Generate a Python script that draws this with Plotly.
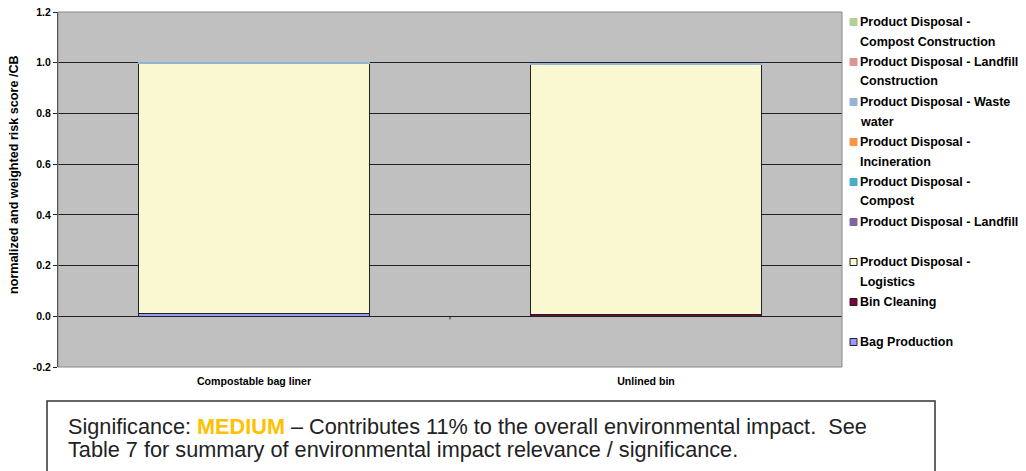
import plotly.graph_objects as go

categories = ["Compostable bag liner", "Unlined bin"]

series_names = [
    "Bag Production",
    "Bin Cleaning",
    "Product Disposal -\nLogistics",
    "Product Disposal - Landfill",
    "Product Disposal -\nCompost",
    "Product Disposal -\nIncineration",
    "Product Disposal - Waste\nwater",
    "Product Disposal - Landfill\nConstruction",
    "Product Disposal -\nCompost Construction",
]
bag_production = [0.012, 0.0]
bin_cleaning = [0.0, 0.007]
logistics = [0.985, 0.986]
landfill = [0.0, 0.0]
compost = [0.0, 0.0]
incineration = [0.0, 0.0]
waste_water = [0.002, 0.002]
landfill_construction = [0.0, 0.0]
compost_construction = [0.0, 0.0]

series_values = [bag_production, bin_cleaning, logistics, landfill, compost,
                 incineration, waste_water, landfill_construction, compost_construction]
colors = ["#9999FF", "#800040", "#FAF8D0", "#8064A2", "#4BACC6",
          "#F79646", "#95B3D7", "#D99694", "#B3CF95"]
outlined = [True, True, True, False, False, False, False, False, False]

y_ticks = [-0.2, 0.0, 0.2, 0.4, 0.6, 0.8, 1.0, 1.2]
y_title = "normalized and weighted risk score /CB"

W, H = 1026, 471
L, R, T, B = 58, 842, 12, 367  # plot area in pixels


def px(x):
    return (x - L) / (R - L)


def py(y):
    return (B - y) / (B - T)


fig = go.Figure()
for name, vals, col, ol in zip(series_names, series_values, colors, outlined):
    fig.add_trace(go.Bar(
        x=categories, y=vals, name=name.replace("\n", " "), marker_color=col,
        marker_line_color="#222222" if ol else col,
        marker_line_width=1 if ol else 0,
        showlegend=False,
    ))

shapes = [
    dict(type="rect", xref="paper", yref="paper", x0=0, x1=1, y0=0, y1=1,
         line=dict(color="#888888", width=1), fillcolor="rgba(0,0,0,0)", layer="above"),
    dict(type="line", xref="x", yref="y", x0=0.5, x1=0.5, y0=0, y1=-0.012,
         line=dict(color="#222222", width=1)),
    dict(type="rect", xref="paper", yref="paper", x0=px(47), x1=px(935),
         y0=py(480), y1=py(401), line=dict(color="#333333", width=1.5),
         fillcolor="white"),
]
annotations = [
    dict(xref="paper", yref="paper", x=px(14), y=py(175), textangle=-90,
         xanchor="center", yanchor="middle", showarrow=False, text=y_title,
         font=dict(family="Liberation Sans, Arial", size=12.6, color="black",
                   weight="bold")),
]

# legend (top item = last series)
n = len(series_names)
for k in range(n):
    i = n - 1 - k
    yc = 22 + 40 * k
    shapes.append(dict(
        type="rect", xref="paper", yref="paper",
        x0=px(850), x1=px(857), y0=py(yc + 3.5), y1=py(yc - 3.5),
        fillcolor=colors[i],
        line=dict(color="#222222" if outlined[i] else colors[i], width=1),
    ))
    for j, line in enumerate(series_names[i].split("\n")):
        annotations.append(dict(
            xref="paper", yref="paper", x=px(858), y=py(yc + 19.5 * j),
            xanchor="left", yanchor="middle", showarrow=False, text=line,
            font=dict(family="Liberation Sans, Arial", size=12.5, color="black",
                      weight="bold"),
        ))

# significance text box
box_lines = [
    "Significance: <span style='color:#FFC000'><b>MEDIUM</b></span> – Contributes 11% to the overall environmental impact.  See",
    "Table 7 for summary of environmental impact relevance / significance.",
]
for j, t in enumerate(box_lines):
    annotations.append(dict(
        xref="paper", yref="paper", x=px(66), y=py(426 + 23.5 * j),
        xanchor="left", yanchor="middle", showarrow=False, text=t,
        font=dict(family="Liberation Sans, Arial", size=21.7, color="#222222"),
    ))

fig.update_layout(
    width=W, height=H,
    barmode="stack", bargap=0.41,
    paper_bgcolor="white", plot_bgcolor="#C0C0C0",
    margin=dict(l=L, r=W - R, t=T, b=H - B, autoexpand=False),
    font=dict(family="Liberation Sans, Arial", size=10, color="black"),
    showlegend=False,
    xaxis=dict(
        showgrid=False, showline=False, ticks="", automargin=False,
        tickfont=dict(size=10.6, weight="bold"), ticklabelstandoff=6,
    ),
    yaxis=dict(
        range=[-0.2, 1.2], tickvals=y_ticks, automargin=False,
        ticktext=[f"{v:.1f}" for v in y_ticks],
        showgrid=True, gridcolor="#222222", gridwidth=1,
        zeroline=True, zerolinecolor="#222222", zerolinewidth=1,
        showline=True, linecolor="#222222", ticks="outside", ticklen=4,
        tickcolor="#222222",
        tickfont=dict(size=10.5, weight="bold"),
    ),
    shapes=shapes,
    annotations=annotations,
)

fig.write_html("out.html", config={"displayModeBar": False},
               post_script="document.body.style.margin='0';")
